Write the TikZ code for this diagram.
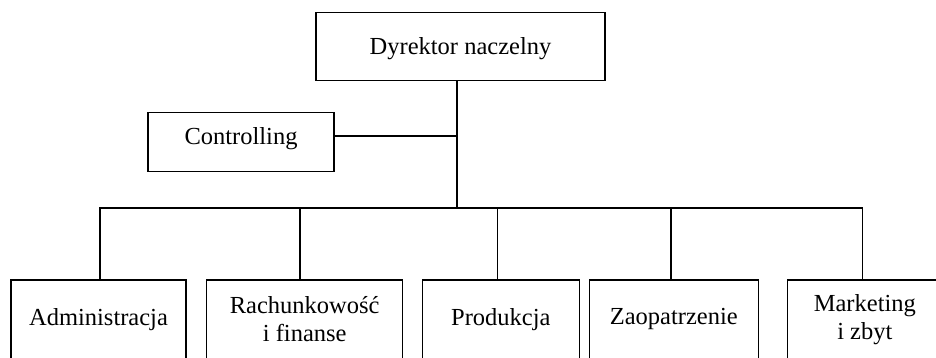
\documentclass[tikz,border=0pt]{standalone}
\usepackage{fontspec}
\setmainfont{Liberation Serif}
\begin{document}
\begin{tikzpicture}[x=1pt,y=-1pt,
  box/.style={draw, line width=1.2pt, inner sep=0pt, align=center,
    font=\fontsize{24.5}{28}\selectfont},
  lowbox/.style={box, minimum height=78.5pt},
  wire/.style={line width=1.2pt}]
\useasboundingbox (0,0) rectangle (936,357);
\clip (0,0) rectangle (936,357);
% boxes
\node[box, minimum width=289pt, minimum height=68pt, text depth=1.5pt] (dyr) at (460.5,46.7) {Dyrektor naczelny};
\node[box, minimum width=186pt, minimum height=59pt, text depth=12.7pt] (ctrl) at (241,142.2) {Controlling};
\node[lowbox, minimum width=175pt] (adm) at (98.5,319.25) {Administracja};
\node[lowbox, minimum width=196pt] (rach) at (304.7,319.25) {Rachunkowość\\i finanse};
\node[lowbox, minimum width=157pt] (prod) at (500.8,319.25) {Produkcja};
\node[lowbox, minimum width=169pt] (zaop) at (673.8,319.25) {Zaopatrzenie};
\node[lowbox, minimum width=154.3pt] (mark) at (864.85,319.25) {Marketing\\i zbyt};
% trunk
\coordinate (trunk) at (457,208);
\draw[wire] (dyr.south -| trunk) -- (trunk);
\draw[wire] ([yshift=6.2pt]ctrl.east) -- ([yshift=6.2pt]ctrl.east -| trunk);
% bus with outer drops
\draw[wire] ([xshift=1.5pt]adm.north) -- ([xshift=1.5pt]adm.north |- trunk)
  -- ([xshift=-2.15pt]mark.north |- trunk) -- ([xshift=-2.15pt]mark.north);
% inner drops
\draw[wire] ([xshift=-4.7pt]rach.north) -- ([xshift=-4.7pt]rach.north |- trunk);
\draw[wire] ([xshift=-3.1pt]prod.north) -- ([xshift=-3.1pt]prod.north |- trunk);
\draw[wire] ([xshift=-2.8pt]zaop.north) -- ([xshift=-2.8pt]zaop.north |- trunk);
\end{tikzpicture}
\end{document}
